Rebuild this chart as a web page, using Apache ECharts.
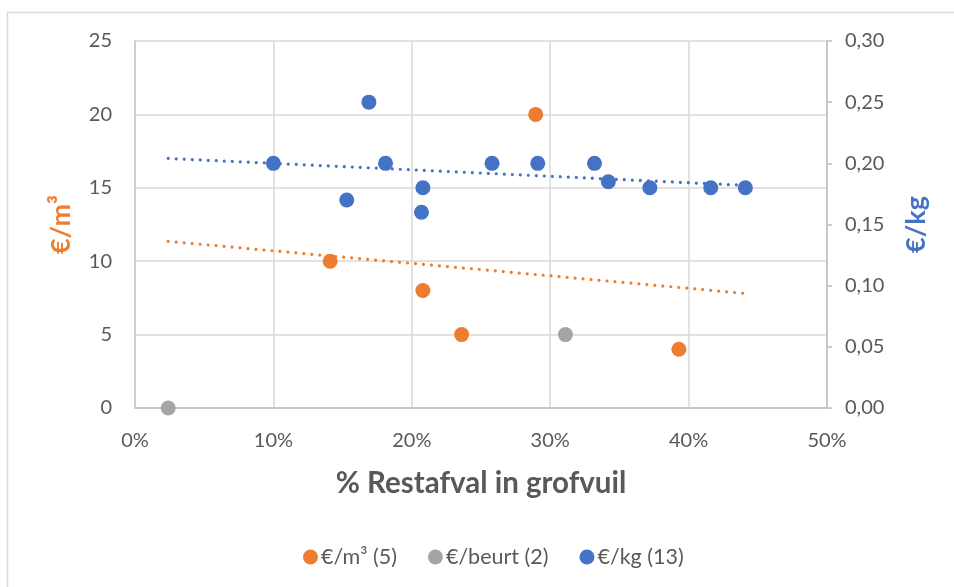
<!DOCTYPE html>
<html>
<head>
<meta charset="utf-8">
<script src="https://cdn.jsdelivr.net/npm/echarts@6/dist/echarts.min.js"></script>
<style>
  html, body { margin: 0; padding: 0; background: #ffffff; }
  #chart { width: 954px; height: 587px; }
</style>
</head>
<body>
<div id="chart"></div>
<script>
// Share of residual waste in bulky waste (%), against the tariff per unit
const seriesNames = ['€/m³ (5)', '€/beurt (2)', '€/kg (13)'];

// €/m³ tariffs (left axis)
const perM3X = [14.1, 20.8, 23.6, 28.95, 39.3];
const perM3Y = [10, 8, 5, 20, 4];

// €/beurt tariffs (left axis)
const perVisitX = [2.4, 31.1];
const perVisitY = [0, 5];

// €/kg tariffs (right axis)
const perKgX = [10.0, 16.9, 18.1, 15.3, 20.8, 20.7, 25.8, 29.1, 33.2, 34.2, 37.2, 41.6, 44.1];
const perKgY = [0.20, 0.25, 0.20, 0.17, 0.18, 0.16, 0.20, 0.20, 0.20, 0.185, 0.18, 0.18, 0.18];

// Linear trendline end points
const trendM3X = [2.4, 44.1];
const trendM3Y = [11.35, 7.8];
const trendKgX = [2.4, 44.1];
const trendKgY = [0.204, 0.182];

// Axis ranges
const xTicks = [0, 50, 10];
const leftTicks = [0, 25, 5];
const rightTicks = [0, 0.30, 0.05];

const ORANGE = '#ED7D31', GREY = '#A5A5A5', BLUE = '#4472C4';
const TEXT = '#595959';
const FONT = 'Lato, "Open Sans", sans-serif';

const zip = (xs, ys) => xs.map((x, i) => [x, ys[i]]);

const trendStyle = (color) => ({
  color: color, width: 3.2, type: [0.01, 8], cap: 'round'
});

const chart = echarts.init(document.getElementById('chart'), null, { renderer: 'canvas' });

chart.setOption({
  backgroundColor: '#ffffff',
  animation: false,
  textStyle: { fontFamily: FONT },
  graphic: [{
    type: 'rect',
    shape: { x: 7.5, y: 12.5, width: 1200, height: 1200 },
    style: { fill: 'none', stroke: '#d9d9d9', lineWidth: 1.5 },
    silent: true, z: -10
  }],
  grid: { left: 135, right: 127, top: 41, bottom: 179, containLabel: false },
  legend: {
    data: seriesNames,
    left: 298, top: 541,
    icon: 'circle', itemWidth: 15, itemHeight: 15, itemGap: 31,
    textStyle: { color: TEXT, fontSize: 21.5, fontFamily: FONT, padding: [0, 0, 0, -2] }
  },
  xAxis: {
    type: 'value',
    min: xTicks[0], max: xTicks[1], interval: xTicks[2],
    name: '% Restafval in grofvuil',
    nameLocation: 'middle', nameGap: 60,
    nameTextStyle: { color: TEXT, fontSize: 29.5, fontWeight: 'bold', fontFamily: FONT },
    axisLine: { show: true, onZero: false, lineStyle: { color: '#bfbfbf', width: 1.5 } },
    axisTick: { show: false },
    axisLabel: { color: TEXT, fontSize: 20, margin: 23, formatter: v => v + '%' },
    splitLine: { show: true, lineStyle: { color: '#d9d9d9', width: 1.5 } }
  },
  yAxis: [{
    type: 'value', position: 'left',
    min: leftTicks[0], max: leftTicks[1], interval: leftTicks[2],
    name: '€/m³',
    nameLocation: 'middle', nameGap: 60, nameRotate: 90,
    nameTextStyle: { color: ORANGE, fontSize: 27, fontWeight: 'bold', fontFamily: FONT },
    axisLine: { show: true, onZero: false, lineStyle: { color: '#c8c8c8', width: 1.5 } },
    axisTick: { show: false },
    axisLabel: { color: TEXT, fontSize: 20, margin: 23 },
    splitLine: { show: true, lineStyle: { color: '#d9d9d9', width: 1.5 } }
  }, {
    type: 'value', position: 'right',
    min: rightTicks[0], max: rightTicks[1], interval: rightTicks[2],
    name: '€/kg',
    nameLocation: 'middle', nameGap: 76, nameRotate: 90,
    nameTextStyle: { color: BLUE, fontSize: 27, fontWeight: 'bold', fontFamily: FONT },
    axisLine: { show: true, onZero: false, lineStyle: { color: '#bfbfbf', width: 1.5 } },
    axisTick: { show: true, inside: false, length: 5, lineStyle: { color: '#bfbfbf', width: 1.5 } },
    axisLabel: { color: TEXT, fontSize: 20, margin: 18,
      formatter: v => v.toFixed(2).replace('.', ',') },
    splitLine: { show: false }
  }],
  series: [
    {
      name: 'trend-m3', type: 'line', yAxisIndex: 0, z: 1,
      data: zip(trendM3X, trendM3Y), symbol: 'none', silent: true,
      lineStyle: trendStyle(ORANGE)
    },
    {
      name: 'trend-kg', type: 'line', yAxisIndex: 1, z: 1,
      data: zip(trendKgX, trendKgY), symbol: 'none', silent: true,
      lineStyle: trendStyle(BLUE)
    },
    {
      name: seriesNames[0], type: 'scatter', yAxisIndex: 0, z: 3,
      data: zip(perM3X, perM3Y), symbolSize: 15,
      itemStyle: { color: ORANGE, opacity: 1 }
    },
    {
      name: seriesNames[1], type: 'scatter', yAxisIndex: 0, z: 3,
      data: zip(perVisitX, perVisitY), symbolSize: 15,
      itemStyle: { color: GREY, opacity: 1 }
    },
    {
      name: seriesNames[2], type: 'scatter', yAxisIndex: 1, z: 3,
      data: zip(perKgX, perKgY), symbolSize: 15,
      itemStyle: { color: BLUE, opacity: 1 }
    }
  ]
});
</script>
</body>
</html>
